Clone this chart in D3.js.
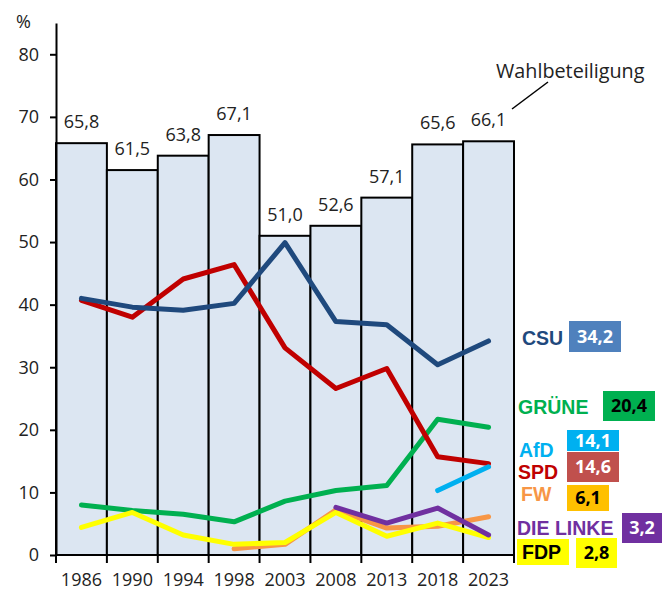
<!DOCTYPE html>
<html lang="de">
	<head>
		<meta charset="utf-8">
		<title>Wahlbeteiligung und Stimmenanteile</title>
		<script type="text/javascript" src="https://cdn.jsdelivr.net/npm/d3@7/dist/d3.min.js"></script>
		<style type="text/css">
			body { margin: 0; background: white; }
			svg { display: block; }
			.axis path, .axis line { stroke: black; stroke-width: 2px; }
			.axis text { font-family: "Open Sans", sans-serif; font-size: 18px; fill: #222; }
		</style>
	</head>
	<body>
		<script type="text/javascript">
			//Data
			var years = ["1986", "1990", "1994", "1998", "2003", "2008", "2013", "2018", "2023"];
			var turnout = [65.8, 61.5, 63.8, 67.1, 51.0, 52.6, 57.1, 65.6, 66.1];
			var csu = [41.0, 39.6, 39.1, 40.2, 49.9, 37.3, 36.8, 30.4, 34.2];
			var spd = [40.7, 38.0, 44.1, 46.4, 33.1, 26.6, 29.8, 15.7, 14.6];
			var gruene = [8.0, 7.1, 6.5, 5.3, 8.6, 10.3, 11.1, 21.7, 20.4];
			var afd = [null, null, null, null, null, null, null, 10.3, 14.1];
			var fw = [null, null, null, 1.0, 1.7, 7.2, 4.3, 4.6, 6.1];
			var linke = [null, null, null, null, null, 7.6, 5.1, 7.5, 3.2];
			var fdp = [4.4, 6.8, 3.2, 1.7, 2.0, 6.8, 3.0, 5.1, 2.8];
			var yTicks = [0, 10, 20, 30, 40, 50, 60, 70, 80];

			var fmt = function(v) { return v.toFixed(1).replace(".", ","); };

			//Width and height
			var w = 662;
			var h = 590;

			var xScale = d3.scaleBand()
							.domain(years)
							.range([56, 514])
							.paddingInner(0)
							.paddingOuter(0);
			var yScale = d3.scaleLinear()
							.domain([0, 85])
							.range([555, 23]);

			var svg = d3.select("body")
						.append("svg")
						.attr("width", w)
						.attr("height", h);

			//Turnout bars
			svg.selectAll("rect.bar")
				.data(turnout)
				.enter()
				.append("rect")
				.attr("class", "bar")
				.attr("x", function(d, i) { return xScale(years[i]); })
				.attr("y", function(d) { return yScale(d); })
				.attr("width", xScale.bandwidth())
				.attr("height", function(d) { return yScale(0) - yScale(d); })
				.attr("fill", "#dce6f2")
				.attr("stroke", "black")
				.attr("stroke-width", 2);

			svg.selectAll("text.barlabel")
				.data(turnout)
				.enter()
				.append("text")
				.attr("class", "barlabel")
				.text(function(d) { return fmt(d); })
				.attr("text-anchor", "middle")
				.attr("x", function(d, i) { return xScale(years[i]) + xScale.bandwidth() / 2; })
				.attr("y", function(d) { return yScale(d) - 15; })
				.attr("font-family", "Open Sans, sans-serif")
				.attr("font-size", "18px")
				.attr("fill", "#222");

			//Party lines
			var parties = [
				{ name: "GRÜNE", values: gruene, color: "#00b050" },
				{ name: "SPD", values: spd, color: "#c00000" },
				{ name: "CSU", values: csu, color: "#1f497d" },
				{ name: "AfD", values: afd, color: "#00b0f0" },
				{ name: "FW", values: fw, color: "#f79646" },
				{ name: "FDP", values: fdp, color: "#ffff00" },
				{ name: "DIE LINKE", values: linke, color: "#7030a0" }
			];

			var line = d3.line()
						.defined(function(d) { return d != null; })
						.x(function(d, i) { return xScale(years[i]) + xScale.bandwidth() / 2; })
						.y(function(d) { return yScale(d); });

			svg.selectAll("path.party")
				.data(parties)
				.enter()
				.append("path")
				.attr("class", "party")
				.attr("d", function(p) { return line(p.values); })
				.attr("fill", "none")
				.attr("stroke", function(p) { return p.color; })
				.attr("stroke-width", 5)
				.attr("stroke-linejoin", "round")
				.attr("stroke-linecap", "round");

			//Axes
			var yAxis = d3.axisLeft(yScale)
						.tickValues(yTicks)
						.tickSize(6)
						.tickSizeOuter(0)
						.tickPadding(11);
			svg.append("g")
				.attr("class", "axis")
				.attr("transform", "translate(56,0)")
				.call(yAxis);

			var xAxis = d3.axisBottom(xScale)
						.tickSize(0)
						.tickSizeOuter(0)
						.tickPadding(18);
			var gx = svg.append("g")
				.attr("class", "axis")
				.attr("transform", "translate(0,555)")
				.call(xAxis);
			gx.select(".domain").attr("d", "M55,0H515");
			//tick marks between the categories
			gx.selectAll("line.sep")
				.data(d3.range(years.length + 1))
				.enter()
				.append("line")
				.attr("class", "sep")
				.attr("x1", function(i) { return xScale.range()[0] + i * xScale.step(); })
				.attr("x2", function(i) { return xScale.range()[0] + i * xScale.step(); })
				.attr("y1", 0)
				.attr("y2", 8);

			svg.append("text")
				.text("%")
				.attr("x", 16)
				.attr("y", 28)
				.attr("font-family", "Open Sans, sans-serif")
				.attr("font-size", "18px")
				.attr("fill", "#222");

			//Turnout caption
			svg.append("text")
				.text("Wahlbeteiligung")
				.attr("x", 496)
				.attr("y", 78)
				.attr("font-family", "Open Sans, sans-serif")
				.attr("font-size", "19.8px")
				.attr("fill", "#222");
			svg.append("line")
				.attr("x1", 512).attr("y1", 109)
				.attr("x2", 548).attr("y2", 82)
				.attr("stroke", "black")
				.attr("stroke-width", 1.5);

			//Labels on the right
			var last = years.length - 1;
			var labels = [
				{ p: csu, name: "CSU", color: "#1f497d", box: "#4f81bd", ink: "white", tx: 522, ty: 338, bx: 569, by: 321, bw: 52, bh: 31 },
				{ p: gruene, name: "GRÜNE", color: "#00b050", box: "#00b050", ink: "black", tx: 518, ty: 407, bx: 603, by: 391, bw: 52, bh: 30 },
				{ p: afd, name: "AfD", color: "#00b0f0", box: "#00b0f0", ink: "white", tx: 519, ty: 450, bx: 567, by: 430, bw: 52, bh: 21 },
				{ p: spd, name: "SPD", color: "#c00000", box: "#c0504d", ink: "white", tx: 518, ty: 472, bx: 567, by: 452, bw: 52, bh: 30 },
				{ p: fw, name: "FW", color: "#f79646", box: "#ffc000", ink: "black", tx: 521, ty: 494, bx: 567, by: 485, bw: 42, bh: 26 },
				{ p: linke, name: "DIE LINKE", color: "#7030a0", box: "#7030a0", ink: "white", tx: 517, ty: 528, bx: 622, by: 513, bw: 40, bh: 30 },
				{ p: fdp, name: "FDP", color: "black", box: "#ffff00", ink: "black", tx: 522, ty: 552, bx: 576, by: 538, bw: 41, bh: 30 }
			];

			//yellow backing for the FDP name
			svg.append("rect")
				.attr("x", 517).attr("y", 539)
				.attr("width", 52).attr("height", 26)
				.attr("fill", "#ffff00");

			svg.selectAll("text.pname")
				.data(labels)
				.enter()
				.append("text")
				.attr("class", "pname")
				.text(function(d) { return d.name; })
				.attr("x", function(d) { return d.tx; })
				.attr("y", function(d) { return d.ty; })
				.attr("dy", "0.36em")
				.attr("font-family", "Liberation Sans, Arial, sans-serif")
				.attr("font-weight", "bold")
				.attr("font-size", "19.5px")
				.attr("fill", function(d) { return d.color; });

			svg.selectAll("rect.vbox")
				.data(labels)
				.enter()
				.append("rect")
				.attr("class", "vbox")
				.attr("x", function(d) { return d.bx; })
				.attr("y", function(d) { return d.by; })
				.attr("width", function(d) { return d.bw; })
				.attr("height", function(d) { return d.bh; })
				.attr("fill", function(d) { return d.box; });

			svg.selectAll("text.vlabel")
				.data(labels)
				.enter()
				.append("text")
				.attr("class", "vlabel")
				.text(function(d) { return fmt(d.p[last]); })
				.attr("text-anchor", "middle")
				.attr("x", function(d) { return d.bx + d.bw / 2; })
				.attr("y", function(d) { return d.by + d.bh / 2; })
				.attr("dy", "0.36em")
				.attr("font-family", "Open Sans, sans-serif")
				.attr("font-weight", "bold")
				.attr("font-size", "18px")
				.attr("fill", function(d) { return d.ink; });
		</script>
	</body>
</html>
